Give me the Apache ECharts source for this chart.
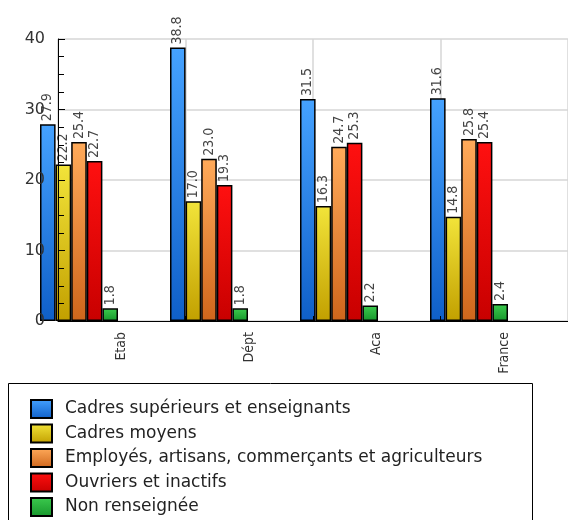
<!DOCTYPE html>
<html>
<head>
<meta charset="utf-8">
<script src="https://cdn.jsdelivr.net/npm/echarts@6/dist/echarts.min.js"></script>
<style>html,body{margin:0;padding:0;background:#fff}#c{width:568px;height:520px}</style>
</head>
<body>
<div id="c"></div>
<script>
const categories = ['Etab', 'Dépt', 'Aca', 'France'];
const seriesNames = [
  'Cadres supérieurs et enseignants',
  'Cadres moyens',
  'Employés, artisans, commerçants et agriculteurs',
  'Ouvriers et inactifs',
  'Non renseignée'
];
const cadresSuperieurs = [27.9, 38.8, 31.5, 31.6];
const cadresMoyens = [22.2, 17.0, 16.3, 14.8];
const employes = [25.4, 23.0, 24.7, 25.8];
const ouvriers = [22.7, 19.3, 25.3, 25.4];
const nonRenseignee = [1.8, 1.8, 2.2, 2.4];
const yMin = 0, yMax = 40, yInterval = 10;

const values = [cadresSuperieurs, cadresMoyens, employes, ouvriers, nonRenseignee];
const gradients = [
  ['#45a2ff', '#0f5fc8'],
  ['#f2e43a', '#c2a000'],
  ['#ffaa5a', '#cf661c'],
  ['#ff1010', '#c80000'],
  ['#3ccb4e', '#17962c']
];
function grad(c) {
  return new echarts.graphic.LinearGradient(0, 0, 0, 1, [
    {offset: 0, color: c[0]}, {offset: 1, color: c[1]}
  ]);
}
const chart = echarts.init(document.getElementById('c'));
const gridColor = '#d6d6d6';
chart.setOption({
  animation: false,
  backgroundColor: '#fff',
  grid: [
    {left: 58, top: 39, width: 520, bottom: 199},
    {left: 14, top: 39, width: 520, bottom: 199}
  ],
  xAxis: [
    {gridIndex: 0, type: 'category', data: categories, position: 'bottom', z: 10,
     axisLine: {show: true, lineStyle: {color: '#000', width: 1}},
     axisTick: {show: true, inside: true, length: 5, lineStyle: {color: '#000'}},
     axisLabel: {rotate: 90, margin: 11, fontFamily: 'DejaVu Sans Condensed', fontSize: 14, color: '#333'},
     splitLine: {show: false}},
    {gridIndex: 0, type: 'category', data: categories, position: 'top',
     axisLine: {show: false}, axisTick: {show: false}, axisLabel: {show: false},
     splitLine: {show: true, lineStyle: {color: gridColor, width: 1.5}}},
    {gridIndex: 1, type: 'category', data: categories, show: false}
  ],
  yAxis: [
    {gridIndex: 0, type: 'value', min: yMin, max: yMax, interval: yInterval, position: 'left', z: 10,
     axisLine: {show: true, lineStyle: {color: '#000', width: 1}},
     axisTick: {show: true, inside: true, length: 7, lineStyle: {color: '#000'}},
     minorTick: {show: true, splitNumber: 4, length: 6, lineStyle: {color: '#000'}},
     axisLabel: {margin: 13, fontFamily: 'DejaVu Sans', fontSize: 16, color: '#333'},
     splitLine: {show: false}},
    {gridIndex: 0, type: 'value', min: yMin, max: yMax, interval: yInterval, position: 'right',
     axisLine: {show: false}, axisTick: {show: false}, axisLabel: {show: false},
     splitLine: {show: true, lineStyle: {color: gridColor, width: 1.5}}},
    {gridIndex: 1, type: 'value', min: yMin, max: yMax, interval: yInterval, show: false}
  ],
  legend: {
    orient: 'vertical', left: 25, top: 394, height: 200,
    icon: 'rect',
    itemWidth: 21, itemHeight: 18, itemGap: 4.5,
    data: seriesNames,
    textStyle: {fontFamily: 'DejaVu Sans', fontSize: 17, color: '#222', padding: [0, 0, 0, 8]}
  },
  graphic: [{
    type: 'rect', left: 8, top: 383, z: -1,
    shape: {width: 524, height: 200},
    style: {fill: '#fff', stroke: '#000', lineWidth: 1}
  }],
  series: values.map((v, i) => ({
    name: seriesNames[i],
    type: 'bar',
    xAxisIndex: 2, yAxisIndex: 2,
    data: v,
    barWidth: 15.6,
    barGap: '0%',
    itemStyle: {color: grad(gradients[i]), borderColor: '#000', borderWidth: 1.5},
    label: {
      show: true, position: 'top', rotate: 90, align: 'left', verticalAlign: 'middle',
      distance: 3, fontFamily: 'DejaVu Sans Condensed', fontSize: 14, color: '#444',
      formatter: p => p.value.toFixed(1)
    }
  }))
});
</script>
</body>
</html>
